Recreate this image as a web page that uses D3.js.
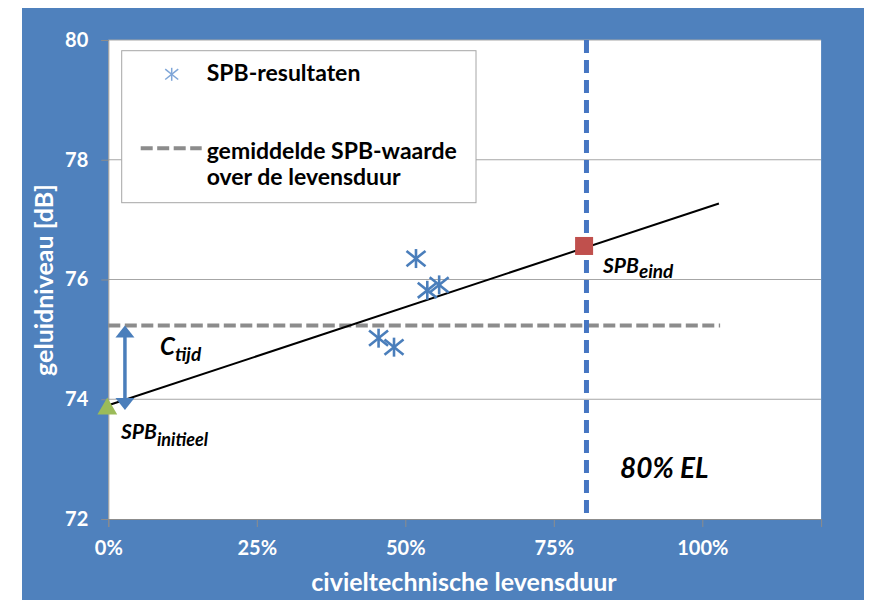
<!DOCTYPE html>
<html><head><meta charset="utf-8">
<script src="https://cdn.jsdelivr.net/npm/d3@7"></script>
<style>
html,body{margin:0;padding:0;background:#fff;}
svg{display:block;font-family:Lato,"Open Sans",sans-serif;}
</style></head>
<body>
<svg id="chart" width="872" height="600"></svg>
<script>
// ---- data ----
const yTicks = [72, 74, 76, 78, 80];
const xTicks = [0, 0.25, 0.5, 0.75, 1.0];
const spbResults = [[0.518, 76.35], [0.537, 75.82], [0.557, 75.91], [0.455, 75.02], [0.481, 74.87]];
const trendLine = [[0, 73.9], [1.028, 77.27]];
const avgLine = [[0, 75.23], [1.03, 75.23]];
const spbInitieel = [0, 73.84];
const spbEind = [0.801, 76.56];
const elLine = 0.805;
const cTijdArrow = [0.028, 73.82, 75.23];
const legendLabels = ["SPB-resultaten", "gemiddelde SPB-waarde", "over de levensduur"];
const xTitle = "civieltechnische levensduur";
const yTitle = "geluidniveau [dB]";

const svg = d3.select("#chart");
const blue = "#4F81BD";
svg.append("rect").attr("x", 22).attr("y", 8).attr("width", 842).attr("height", 592).attr("fill", blue);

const x = d3.scaleLinear().domain([0, 1.2]).range([108.3, 821.1]);
const y = d3.scaleLinear().domain([72, 80]).range([519, 40]);

// plot area
svg.append("rect").attr("x", x(0)).attr("y", y(80)).attr("width", x(1.2) - x(0)).attr("height", y(72) - y(80)).attr("fill", "#fff");

// gridlines
svg.append("g").selectAll("line").data(yTicks.filter(d => d > 72)).join("line")
  .attr("x1", x(0)).attr("x2", x(1.2)).attr("y1", d => y(d)).attr("y2", d => y(d))
  .attr("stroke", "#A6A6A6").attr("stroke-width", 1);

// axes
const yAxis = svg.append("g").attr("transform", `translate(${x(0)},0)`)
  .call(d3.axisLeft(y).tickValues(yTicks).tickSize(7).tickPadding(13).tickFormat(d3.format("d")));
const xAxis = svg.append("g").attr("transform", `translate(0,${y(72)})`)
  .call(d3.axisBottom(x).tickValues(xTicks).tickSize(8).tickPadding(14).tickFormat(d3.format(".0%")));
[yAxis, xAxis].forEach(g => {
  g.select(".domain").attr("stroke", "#8C8C8C");
  g.selectAll(".tick line").attr("stroke", "#8C8C8C");
  g.selectAll(".tick text").attr("fill", "#fff").attr("font-size", 20).attr("font-weight", 700)
    .attr("font-family", "Lato, sans-serif");
});

// axis titles
svg.append("text").attr("x", 464).attr("y", 591).attr("text-anchor", "middle")
  .attr("fill", "#fff").attr("font-size", 25).attr("font-weight", 700).text(xTitle);
svg.append("text").attr("transform", "translate(53,280) rotate(-90)").attr("text-anchor", "middle")
  .attr("fill", "#fff").attr("font-size", 25).attr("font-weight", 700).text(yTitle);

// average dashed line
const line = d3.line().x(d => x(d[0])).y(d => y(d[1]));
svg.append("path").attr("d", line(avgLine)).attr("stroke", "#8C8C8C").attr("stroke-width", 4)
  .attr("stroke-dasharray", "12,4.5").attr("fill", "none");

// vertical 80% EL dashed line
svg.append("line").attr("x1", x(elLine)).attr("x2", x(elLine)).attr("y1", y(80)).attr("y2", y(72))
  .attr("stroke", "#4676C2").attr("stroke-width", 5).attr("stroke-dasharray", "13,7");

// trend line
svg.append("path").attr("d", line(trendLine)).attr("stroke", "#000").attr("stroke-width", 2).attr("fill", "none");

// star marker
function star(g, cx, cy, r, color, sw) {
  const s = g.append("g").attr("transform", `translate(${cx},${cy})`)
    .attr("stroke", color).attr("stroke-width", sw).attr("stroke-linecap", "butt");
  s.append("line").attr("x1", 0).attr("x2", 0).attr("y1", -r).attr("y2", r);
  s.append("line").attr("x1", -r).attr("x2", r).attr("y1", -r * 0.8).attr("y2", r * 0.8);
  s.append("line").attr("x1", -r).attr("x2", r).attr("y1", r * 0.8).attr("y2", -r * 0.8);
}
const pts = svg.append("g");
spbResults.forEach(d => star(pts, x(d[0]), y(d[1]), 9.5, "#4A7EBB", 2.6));

// C_tijd arrow
const ax = x(cTijdArrow[0]), ay0 = y(cTijdArrow[1]), ay1 = y(cTijdArrow[2]);
const ac = "#4A7EBB";
svg.append("line").attr("x1", ax).attr("x2", ax).attr("y1", ay0 - 10).attr("y2", ay1 + 10)
  .attr("stroke", ac).attr("stroke-width", 3.5);
svg.append("path").attr("d", `M${ax},${ay1} L${ax - 9.5},${ay1 + 12} L${ax + 9.5},${ay1 + 12} Z`).attr("fill", ac);
svg.append("path").attr("d", `M${ax},${ay0} L${ax - 9.5},${ay0 - 12} L${ax + 9.5},${ay0 - 12} Z`).attr("fill", ac);

// SPB initieel triangle
svg.append("path").attr("transform", `translate(${x(spbInitieel[0]) - 1},${y(spbInitieel[1])})`)
  .attr("d", d3.symbol(d3.symbolTriangle, 170)()).attr("fill", "#9BBB59");
// SPB eind square
svg.append("rect").attr("x", x(spbEind[0]) - 9).attr("y", y(spbEind[1]) - 9).attr("width", 18).attr("height", 18)
  .attr("fill", "#C0504D");

// annotations
function subLabel(tx, ty, main, sub, fs, sfs, dy) {
  const t = svg.append("text").attr("x", tx).attr("y", ty).attr("font-style", "italic").attr("font-weight", 700)
    .attr("fill", "#000").attr("font-size", fs);
  t.append("tspan").text(main);
  t.append("tspan").attr("font-size", sfs).attr("dy", dy).text(sub);
}
subLabel(160, 355, "C", "tijd", 24, 19, 6);
subLabel(121, 439, "SPB", "initieel", 21, 18, 7);
subLabel(603, 273, "SPB", "eind", 21, 19, 5);
svg.append("text").attr("x", 620).attr("y", 478).attr("font-style", "italic").attr("font-weight", 700)
  .attr("font-size", 28).attr("fill", "#000").text("80% EL");

// legend
const lg = svg.append("g");
lg.append("rect").attr("x", 121.7).attr("y", 50.7).attr("width", 354.3).attr("height", 152)
  .attr("fill", "#fff").attr("stroke", "#A6A6A6").attr("stroke-width", 1);
star(lg, 171.7, 74.3, 6.5, "#7FA6D8", 1.5);
lg.append("line").attr("x1", 140.7).attr("x2", 201.7).attr("y1", 148.3).attr("y2", 148.3)
  .attr("stroke", "#8C8C8C").attr("stroke-width", 4).attr("stroke-dasharray", "12,4.5");
const lt = [[206.7, 81], [206.7, 159], [206.7, 185]];
lg.selectAll("text.lab").data(legendLabels).join("text").attr("class", "lab")
  .attr("x", (d, i) => lt[i][0]).attr("y", (d, i) => lt[i][1])
  .attr("font-size", 23).attr("font-weight", 700).attr("fill", "#000").text(d => d);
</script>
</body></html>
